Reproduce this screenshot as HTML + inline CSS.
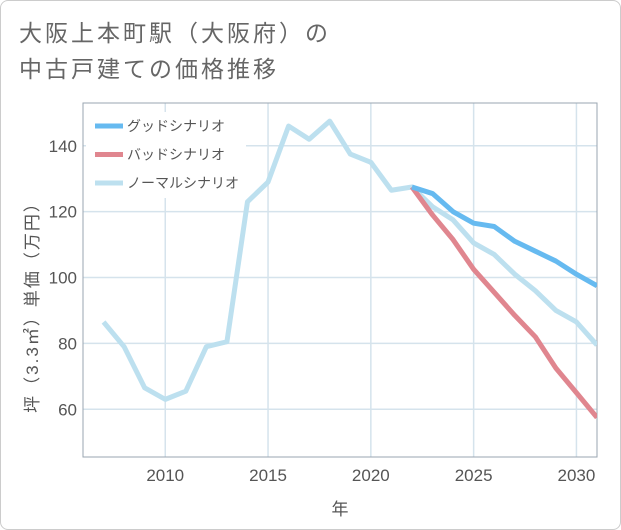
<!DOCTYPE html>
<html><head><meta charset="utf-8"><style>
body{margin:0;background:#fff;}
#card{position:absolute;left:0;top:0;width:619px;height:528px;border:1px solid #ccc;border-radius:8px;background:#fff;font-family:"Liberation Sans","Noto Sans CJK JP",sans-serif;}
#title{position:absolute;left:18px;top:14px;font-size:23px;letter-spacing:3px;line-height:36px;color:#666;}
svg{position:absolute;left:0;top:0;}
</style></head><body>
<div id="card">
<div id="title">大阪上本町駅（大阪府）の<br>中古戸建ての価格推移</div>
</div>
<svg id="chart" width="621" height="530"></svg>
<script>
const years=[2007,2008,2009,2010,2011,2012,2013,2014,2015,2016,2017,2018,2019,2020,2021,2022,2023,2024,2025,2026,2027,2028,2029,2030,2031];
const normalVals=[86.5,79,66.5,63,65.5,79,80.5,123,129,146,142,147.5,137.5,135,126.5,127.5,121.5,117.5,110.5,107,101,96,90,86.5,79.5];
const futureYears=[2022,2023,2024,2025,2026,2027,2028,2029,2030,2031];
const goodVals=[127.5,125.5,120,116.5,115.5,111,108,105,101,97.5];
const badVals=[127.5,119,111.5,102.5,95.5,88.5,82,72.5,65,57.5];
const xTicks=[2010,2015,2020,2025,2030];
const yTicks=[60,80,100,120,140];
const L=83,R=597,T=103,B=457,X0=2006,X1=2031,Y0=45.5,Y1=153;
const sx=v=>L+(v-X0)/(X1-X0)*(R-L);
const sy=v=>B-(v-Y0)/(Y1-Y0)*(B-T);
const svg=document.getElementById('chart');
const NS='http://www.w3.org/2000/svg';
function mk(t,a){const e=document.createElementNS(NS,t);for(const k in a)e.setAttribute(k,a[k]);svg.appendChild(e);return e;}
const cp=mk('clipPath',{id:'clip'});
const cr=document.createElementNS(NS,'rect');cr.setAttribute('x',L);cr.setAttribute('y',T);cr.setAttribute('width',R-L);cr.setAttribute('height',B-T);cp.appendChild(cr);
xTicks.forEach(v=>{
 const g=mk('line',{x1:sx(v),x2:sx(v),y1:T,y2:B,stroke:'#d5e3ec','stroke-width':1.5});
 
 
 const t=mk('text',{x:sx(v),y:481,'text-anchor':'middle','font-size':17,fill:'#555','font-family':'Liberation Sans, sans-serif'});
 t.textContent=v;
 
 
});
yTicks.forEach(v=>{
 const g=mk('line',{x1:L,x2:R,y1:sy(v),y2:sy(v),stroke:'#d5e3ec','stroke-width':1.5});
 
 
 const t=mk('text',{x:77,y:sy(v)+6,'text-anchor':'end','font-size':17,fill:'#555','font-family':'Liberation Sans, sans-serif'});
 t.textContent=v;
 
 
});
const lb=mk('rect',{x:86,y:112,width:160,height:86,fill:'#fff'});


const fr=mk('rect',{x:L,y:T,width:R-L,height:B-T,fill:'none',stroke:'#9aa5b0','stroke-width':1});


function series(xs,ys,color,name){
 const p=mk('polyline',{points:xs.map((x,i)=>sx(x)+','+sy(ys[i])).join(' '),fill:'none',stroke:color,'stroke-width':5,'stroke-linejoin':'round','clip-path':'url(#clip)'});
 
 
}
series(years,normalVals,'#bde0ef','normal-scenario-line');
series(futureYears,badVals,'#e0868f','bad-scenario-line');
series(futureYears,goodVals,'#66baf0','good-scenario-line');
const leg=[['グッドシナリオ','#66baf0','legend-good'],['バッドシナリオ','#e0868f','legend-bad'],['ノーマルシナリオ','#bde0ef','legend-normal']];
leg.forEach((l,i)=>{
 const y=126+i*28.5;
 const ln=mk('line',{x1:95,x2:123,y1:y,y2:y,stroke:l[1],'stroke-width':5});
 
 
 const t=mk('text',{x:127,y:y+5,'font-size':14,fill:'#555','font-family':'Liberation Sans, Noto Sans CJK JP, sans-serif'});
 t.textContent=l[0];
 
 
});
const xt=mk('text',{x:340,y:515,'text-anchor':'middle','font-size':17,fill:'#555','font-family':'Liberation Sans, Noto Sans CJK JP, sans-serif'});
xt.textContent='年';


const yt=mk('text',{x:0,y:0,'text-anchor':'middle','font-size':17,'letter-spacing':2,fill:'#555','font-family':'Liberation Sans, Noto Sans CJK JP, sans-serif',transform:'translate(38,303) rotate(-90)'});
yt.textContent='坪（3.3㎡）単価（万円）';


</script>
</body></html>
